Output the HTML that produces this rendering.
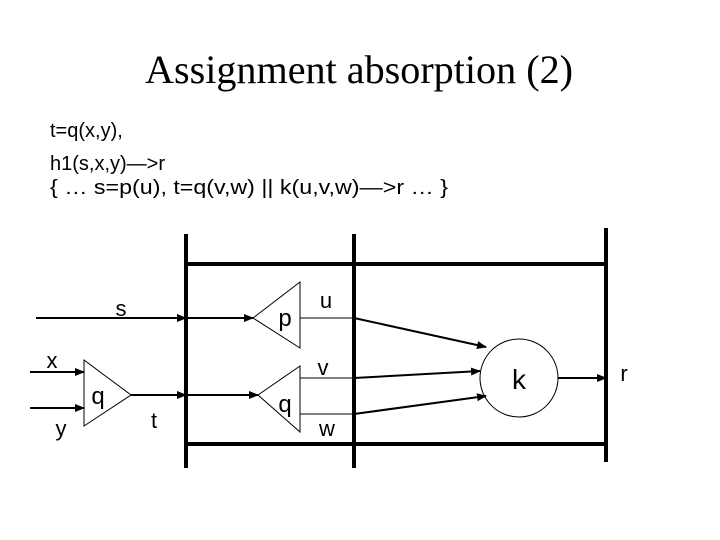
<!DOCTYPE html>
<html><head><meta charset="utf-8"><style>html,body{margin:0;padding:0;background:#fff}svg{display:block}</style></head>
<body>
<svg width="720" height="540" viewBox="0 0 720 540" xmlns="http://www.w3.org/2000/svg">
<defs><marker id="a" markerWidth="10" markerHeight="8" refX="9" refY="4" orient="auto" markerUnits="userSpaceOnUse"><path d="M0,0 L10,4 L0,8 z" fill="#000"/></marker></defs>
<rect width="720" height="540" fill="#fff"/>
<text x="145" y="83" font-family="Liberation Serif, serif" font-size="40" textLength="428" lengthAdjust="spacingAndGlyphs">Assignment absorption (2)</text>
<g font-family="Liberation Sans, sans-serif" font-size="20">
<text x="50" y="137">t=q(x,y),</text>
<text x="50" y="170">h1(s,x,y)—&gt;r</text>
<text x="50" y="194" textLength="398" lengthAdjust="spacingAndGlyphs">{ … s=p(u), t=q(v,w) || k(u,v,w)—&gt;r … }</text>
</g>
<g stroke="#000" stroke-width="4" fill="none">
<line x1="186" y1="234" x2="186" y2="468"/>
<line x1="354" y1="234" x2="354" y2="468"/>
<line x1="606" y1="228" x2="606" y2="462"/>
<line x1="186" y1="264" x2="606" y2="264"/>
<line x1="186" y1="444" x2="606" y2="444"/>
</g>
<g stroke="#000" stroke-width="2" fill="none" marker-end="url(#a)">
<line x1="36" y1="318" x2="186" y2="318"/>
<line x1="186" y1="318" x2="253" y2="318"/>
<line x1="30" y1="372" x2="84" y2="372"/>
<line x1="30" y1="408" x2="84" y2="408"/>
<line x1="131" y1="395" x2="186" y2="395"/>
<line x1="186" y1="395" x2="258" y2="395"/>
<line x1="354" y1="318" x2="486" y2="347"/>
<line x1="354" y1="378" x2="480" y2="371"/>
<line x1="354" y1="414" x2="486" y2="396"/>
<line x1="558" y1="378" x2="606" y2="378"/>
</g>
<g stroke="#000" stroke-width="1" fill="none">
<path d="M84,360 L131,395 L84,426 Z"/>
<path d="M300,282 L253,318 L300,348 Z"/>
<path d="M300,366 L258,395 L300,432 Z"/>
<line x1="300" y1="318" x2="354" y2="318"/>
<line x1="300" y1="378" x2="354" y2="378"/>
<line x1="300" y1="414" x2="354" y2="414"/>
<circle cx="519" cy="378" r="39"/>
</g>
<g font-family="Liberation Sans, sans-serif" font-size="22" text-anchor="middle">
<text x="121" y="316">s</text>
<text x="52" y="368">x</text>
<text x="61" y="436">y</text>
<text x="98" y="404" font-size="24">q</text>
<text x="154" y="428">t</text>
<text x="285" y="326" font-size="24">p</text>
<text x="326" y="308">u</text>
<text x="323" y="375">v</text>
<text x="285" y="412" font-size="24">q</text>
<text x="327" y="436">w</text>
<text x="519" y="389" font-size="28">k</text>
<text x="624" y="381">r</text>
</g>
</svg>
</body></html>
